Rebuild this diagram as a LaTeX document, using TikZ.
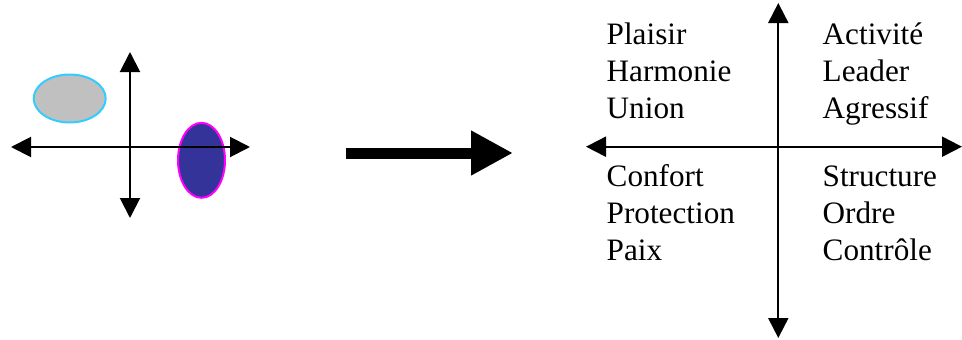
\documentclass[tikz,border=0pt]{standalone}
\usepackage{fontspec}
\setmainfont{Liberation Serif}
\newfontfamily\wordfont{Liberation Serif}
\usetikzlibrary{arrows.meta}
\definecolor{bordcyan}{HTML}{33CCFF}
\definecolor{fillgray}{HTML}{C0C0C0}
\definecolor{fillblue}{HTML}{333399}
\definecolor{bordpink}{HTML}{FF00FF}
\begin{document}
\begin{tikzpicture}[x=1pt, y=-1pt,
                    axis/.style = {line width=2pt,
                                   {Triangle[length=20pt,width=20pt]}-{Triangle[length=20pt,width=20pt]}},
                    mword/.style = {anchor=base west,
                                    inner sep=0pt,
                                    font=\wordfont\fontsize{31.2}{36}\selectfont}]
		\useasboundingbox (0,0) rectangle (962,340);
		% left picture
		\draw[line width=2pt, color=bordcyan, fill=fillgray] (69.7,98.5) ellipse [x radius=36, y radius=24];
		\draw[line width=2pt, color=bordpink, fill=fillblue] (201.5,160.3) ellipse [x radius=23.5, y radius=37.5];
		\coordinate (lw) at (11,147);
		\coordinate (le) at (250,147);
		\coordinate (ln) at (130,52);
		\coordinate (ls) at (130,218);
		\draw[axis] (lw) -- (le);
		\draw[axis] (ln) -- (ls);
		% big arrow
		\coordinate (ba) at (346,153);
		\coordinate (bb) at (513,153);
		\draw[line width=11pt, -{Triangle[length=42pt,width=42pt]}] (ba) -- (bb);
		% right picture
		\coordinate (rw) at (586,146.7);
		\coordinate (re) at (962,146.7);
		\coordinate (rn) at (778.3,3);
		\coordinate (rs) at (778.3,338);
		\draw[axis] (rw) -- (re);
		\draw[axis] (rn) -- (rs);
		\node[mword] (plaisir)    at (606.5,45)    {Plaisir};
		\node[mword] (harmonie)   at (606.5,81.7)  {Harmonie};
		\node[mword] (union)      at (606.5,118.3) {Union};
		\node[mword] (confort)    at (606.5,186.7) {Confort};
		\node[mword] (protection) at (606.5,223.3) {Protection};
		\node[mword] (paix)       at (606.5,260)   {Paix};
		\node[mword] (activite)   at (822.5,45)    {Activité};
		\node[mword] (leader)     at (822.5,81.7)  {Leader};
		\node[mword] (agressif)   at (822.5,118.3) {Agressif};
		\node[mword] (structure)  at (822.5,186.7) {Structure};
		\node[mword] (ordre)      at (822.5,223.3) {Ordre};
		\node[mword] (controle)   at (822.5,260)   {Contrôle};
	\end{tikzpicture}
\end{document}
